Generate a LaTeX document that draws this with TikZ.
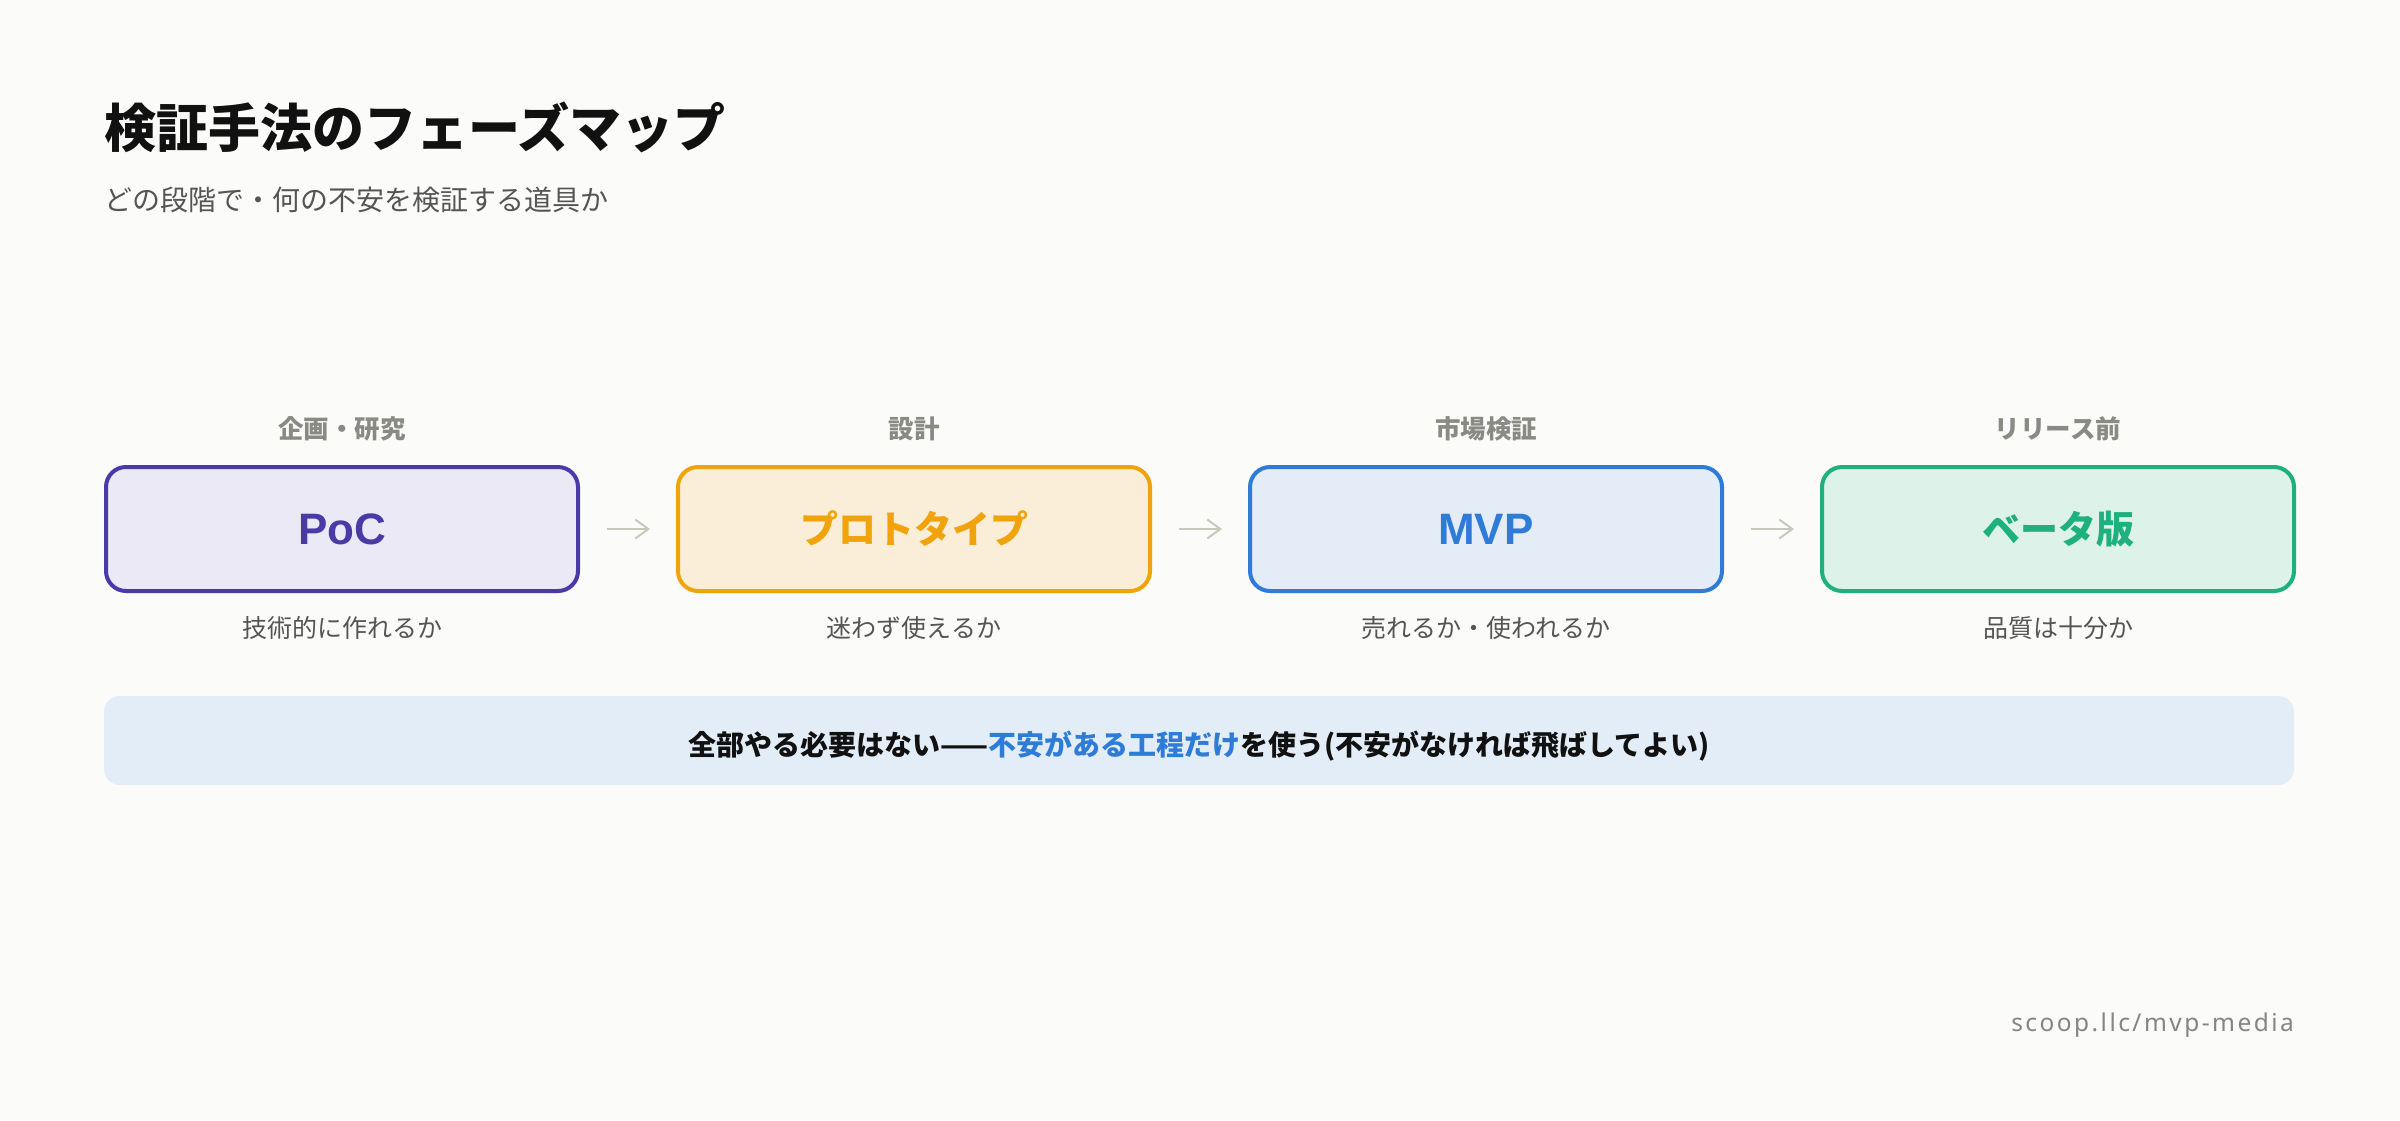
\documentclass[tikz,border=0pt]{standalone}
\usepackage{fontspec}
\setmainfont{Noto Sans CJK JP}
\newfontfamily\latf{Liberation Sans}
\newfontfamily\footf{Noto Sans}[LetterSpace=10]
\usetikzlibrary{arrows.meta}
\definecolor{bg}{HTML}{FBFBF9}
\definecolor{titlec}{HTML}{111111}
\definecolor{subc}{HTML}{555555}
\definecolor{phasec}{HTML}{8A8A85}
\definecolor{descc}{HTML}{555555}
\definecolor{arrowc}{HTML}{C8C8BC}
\definecolor{pocc}{HTML}{4A3AA8}
\definecolor{pocf}{HTML}{EBE9F5}
\definecolor{protoc}{HTML}{F0A30A}
\definecolor{protof}{HTML}{FBEED9}
\definecolor{mvpc}{HTML}{2E7BD8}
\definecolor{mvpf}{HTML}{E3ECF7}
\definecolor{betac}{HTML}{1EB07E}
\definecolor{betaf}{HTML}{DDF2E9}
\definecolor{notef}{HTML}{E3EDF8}
\definecolor{footc}{HTML}{858585}
\begin{document}
\begin{tikzpicture}[x=1pt,y=-1pt,
  phase/.style={anchor=base, inner sep=0pt, text=phasec, font=\bfseries\fontsize{25.5}{30}\selectfont},
  desc/.style={anchor=base, inner sep=0pt, text=descc, font=\fontsize{25}{30}\selectfont},
  card/.style={draw, line width=4pt, rounded corners=20pt, minimum width=472pt, minimum height=124pt, inner sep=0pt},
  cjkcard/.style={card, font=\bfseries\fontsize{38}{44}\selectfont},
  latcard/.style={card, font=\latf\bfseries\fontsize{44}{50}\selectfont},
  arr/.style={draw=arrowc, line width=2pt, -{Straight Barb[length=13pt,width=19pt,line width=2pt]}, shorten <=27pt, shorten >=26pt}
]
\useasboundingbox (0,0) rectangle (2400,1120);
\fill[bg] (0,0) rectangle (2400,1120);

\node[anchor=base west, inner sep=0pt, text=titlec, font=\bfseries\fontsize{52}{60}\selectfont] (title) at (104,147) {検証手法のフェーズマップ};
\node[anchor=base west, inner sep=0pt, text=subc, font=\fontsize{28}{34}\selectfont] (subtitle) at (104,210) {どの段階で・何の不安を検証する道具か};

\node[phase] (p1) at (342,438) {企画・研究};
\node[phase] (p2) at (914,438) {設計};
\node[phase] (p3) at (1486,438) {市場検証};
\node[phase] (p4) at (2058,438) {リリース前};

\node[latcard, draw=pocc, fill=pocf, text=pocc] (b1) at (342,529) {PoC};
\node[cjkcard, draw=protoc, fill=protof, text=protoc] (b2) at (914,529) {プロトタイプ};
\node[latcard, draw=mvpc, fill=mvpf, text=mvpc] (b3) at (1486,529) {MVP};
\node[cjkcard, draw=betac, fill=betaf, text=betac] (b4) at (2058,529) {ベータ版};

\draw[arr] (b1.east) -- (b2.west);
\draw[arr] (b2.east) -- (b3.west);
\draw[arr] (b3.east) -- (b4.west);

\node[desc] (d1) at (342,637) {技術的に作れるか};
\node[desc] (d2) at (914,637) {迷わず使えるか};
\node[desc] (d3) at (1486,637) {売れるか・使われるか};
\node[desc] (d4) at (2058,637) {品質は十分か};

\node[fill=notef, rounded corners=16pt, minimum width=2190pt, minimum height=89pt, inner sep=0pt, text=titlec, font=\bfseries\fontsize{28}{34}\selectfont] (note) at (1199,740.5) {\raisebox{-4.5pt}[24.6pt][3.4pt]{全部やる必要はない——{\color{mvpc}不安がある工程だけ}を使う(不安がなければ飛ばしてよい)}};

\node[anchor=base east, inner sep=0pt, text=footc, font=\footf\fontsize{24.5}{30}\selectfont] (foot) at (2294,1031) {scoop.llc/mvp-media};
\end{tikzpicture}
\end{document}
